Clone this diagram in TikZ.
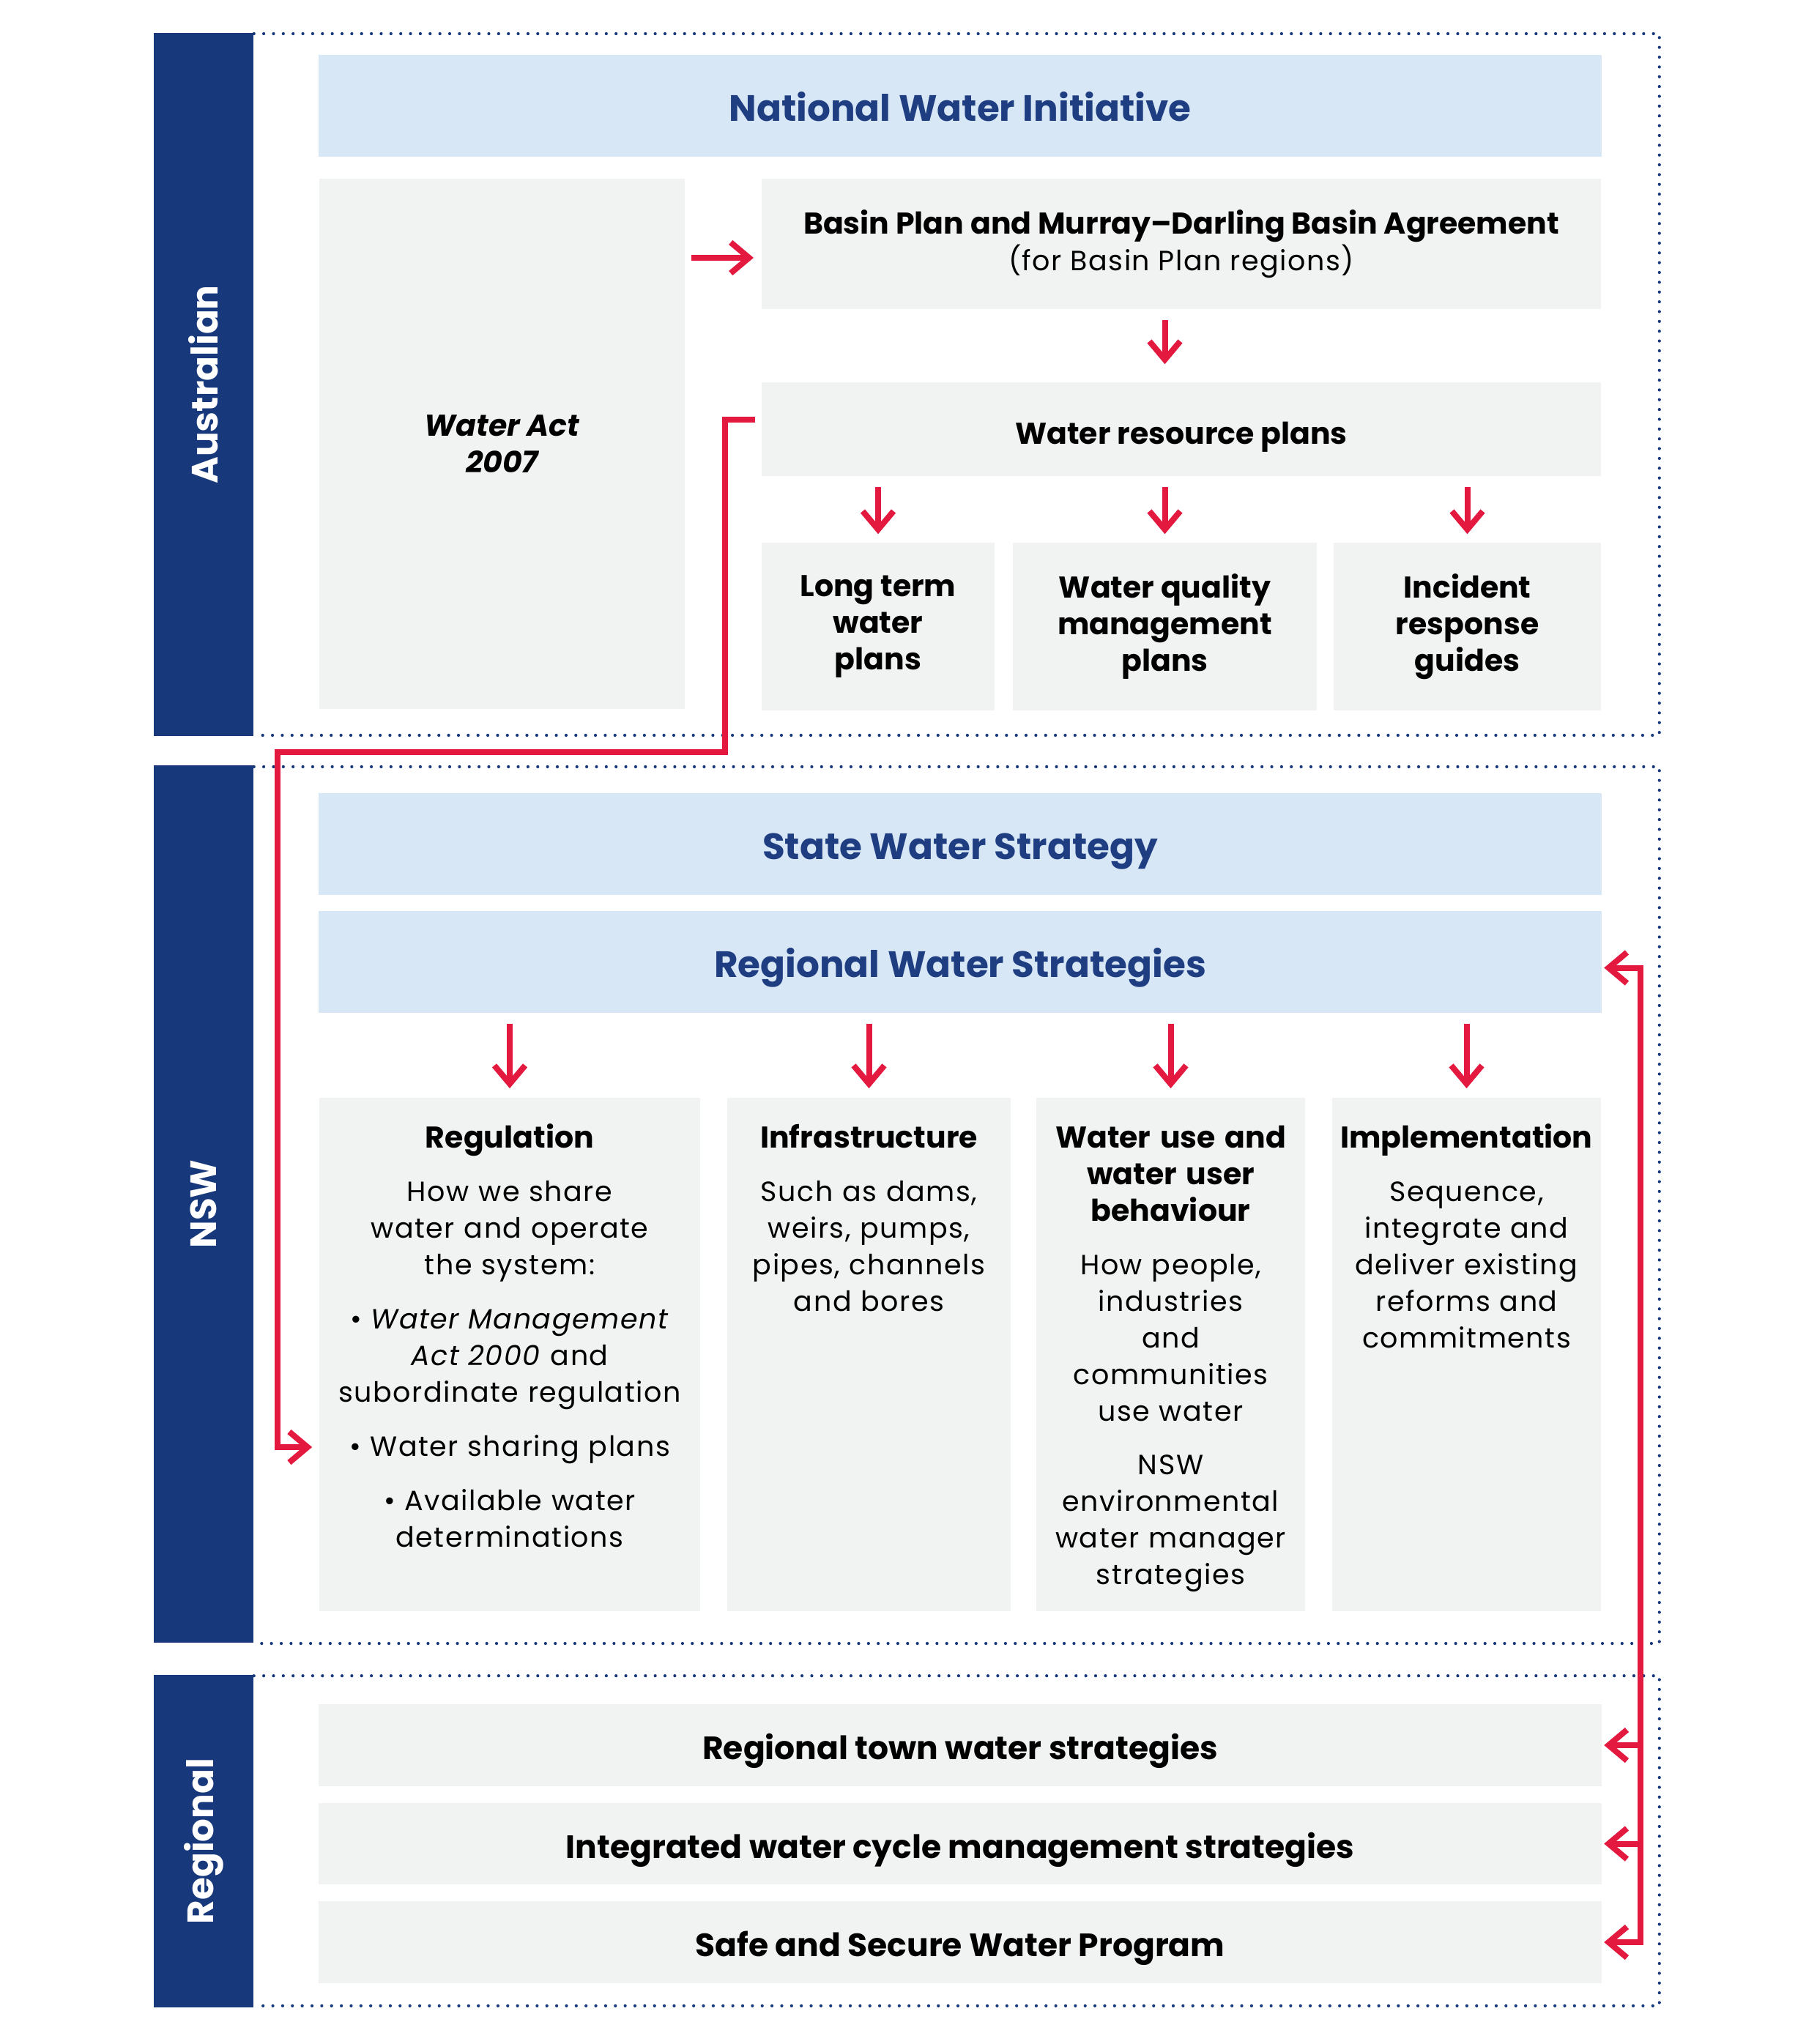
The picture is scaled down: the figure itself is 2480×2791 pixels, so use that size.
\documentclass[tikz,border=0pt]{standalone}
\usepackage{fontspec}
\setmainfont{Poppins}
\newfontfamily\bodyfam[LetterSpace=4]{Poppins}
\usepackage{xcolor}
\usepackage{tikz}
\usetikzlibrary{calc}
\usetikzlibrary{positioning}
\usetikzlibrary{arrows.meta}

\definecolor{navy}{HTML}{17397B}
\definecolor{headblue}{HTML}{1F3E82}
\definecolor{paleblue}{HTML}{D7E7F6}
\definecolor{palegray}{HTML}{F1F2F2}
\definecolor{flowred}{HTML}{E3193F}

\newcommand{\bodyfont}{\fontsize{0.38cm}{0.5cm}\bodyfam\mdseries\upshape}
\newcommand{\boldfont}{\fontsize{0.41cm}{0.5cm}\normalfont\bfseries}

\begin{document}
\begin{tikzpicture}[x=0.01cm,y=-0.01cm,
      bar style/.style={rectangle,fill=navy,inner sep=0pt,minimum width=1.36cm},
      side style/.style={rotate=90,text=white,inner sep=0pt,
        font=\fontsize{0.50cm}{0.6cm}\selectfont\bfseries},
      head style/.style={rectangle,fill=paleblue,inner sep=0pt,text=headblue,
        minimum width=17.5cm,minimum height=1.39cm,text height=0.42cm,text depth=0pt,
        font=\fontsize{0.50cm}{0.6cm}\selectfont\bfseries},
      box style/.style={rectangle,fill=palegray,inner sep=0pt,align=center,
        font=\boldfont,execute at begin node={\rule{0pt}{0.52cm}}},
      band style/.style={box style,minimum width=17.5cm,
        font=\fontsize{0.44cm}{0.5cm}\selectfont\bfseries},
      text style/.style={inner sep=0pt,align=center,font=\bodyfont},
      dot style/.style={navy,line width=1.2pt,line cap=round,
        dash pattern=on 0pt off 3.8pt},
      flow/.style={flowred,line width=0.08cm,
        -{Straight Barb[length=0.25cm,width=0.42cm]}},
      both flow/.style={flowred,line width=0.08cm,
        {Straight Barb[length=0.25cm,width=0.42cm]}-{Straight Barb[length=0.25cm,width=0.42cm]}}
      ]
      \useasboundingbox (0,0) rectangle (2480,2791);

      % level bars
      \node[bar style,minimum height=9.60cm] (aubar) at (278,525) {};
      \node[bar style,minimum height=11.98cm] (nswbar) at (278,1644) {};
      \node[bar style,minimum height=4.54cm] (regbar) at (278,2514) {};
      \node[side style] (aulbl) at (aubar) {Australian};
      \node[side style] (nswlbl) at (nswbar) {NSW};
      \node[side style] (reglbl) at (regbar) {Regional};

      \draw[dot style] ([yshift=-0.02cm]aubar.north east) -| ($(aubar.south east)+(1919,-2)$) -- ([yshift=0.02cm]aubar.south east);
      \draw[dot style] ([yshift=-0.03cm]nswbar.north east) -| ($(nswbar.south east)+(1919,0)$) -- (nswbar.south east);
      \draw[dot style] ([yshift=-0.02cm]regbar.north east) -| ($(regbar.south east)+(1919,-3)$) -- ([yshift=0.03cm]regbar.south east);

      % Australian
      \node[head style] (nwi) at (1311,144.5) {National Water Initiative};
      \node[box style,minimum width=4.99cm,minimum height=7.24cm] (wact) at (685.5,606)
        {\itshape Water Act\\\itshape 2007};
      \node[box style,minimum width=11.46cm,minimum height=1.78cm] (bpa) at (1613,333)
        {Basin Plan and Murray--Darling Basin Agreement\\
        {\bodyfont (for Basin Plan regions)}};
      \node[box style,minimum width=11.46cm,minimum height=1.28cm] (wrp) at (1613,586)
        {Water resource plans};
      \node[box style,minimum width=3.18cm,minimum height=2.29cm] (ltw) at (1199,855.5)
        {Long term\\water\\plans};
      \node[box style,minimum width=4.15cm,minimum height=2.29cm] (wqm) at (1590.5,855.5)
        {Water quality\\management\\plans};
      \node[box style,minimum width=3.65cm,minimum height=2.29cm] (irg) at (2003.5,855.5)
        {Incident\\response\\guides};

      % NSW
      \node[head style] (sws) at (1311,1152.5) {State Water Strategy};
      \node[head style] (rws) at (1311,1313.5) {Regional Water Strategies};
      \node[box style,minimum width=5.20cm,minimum height=7.01cm] (reg) at (696,1849.5) {};
      \node[box style,minimum width=3.87cm,minimum height=7.01cm] (inf) at (1186.5,1849.5) {};
      \node[box style,minimum width=3.67cm,minimum height=7.01cm] (wub) at (1598.5,1849.5) {};
      \node[box style,minimum width=3.67cm,minimum height=7.01cm] (imp) at (2002.5,1849.5) {};

      \node[text style,text width=5.1cm,anchor=base] (regtxt) at ($(reg.north)+(0,69)$)
        {{\boldfont Regulation}\\[0.23cm]
        How we share\\water and operate\\the system:\\[0.24cm]
        \textbullet{} \textit{Water Management}\\\textit{Act 2000} and\\subordinate regulation\\[0.24cm]
        \textbullet{} Water sharing plans\\[0.24cm]
        \textbullet{} Available water\\determinations};
      \node[text style,text width=3.8cm,anchor=base] (inftxt) at ($(inf.north)+(0,69)$)
        {{\boldfont Infrastructure}\\[0.23cm]
        Such as dams,\\weirs, pumps,\\pipes, channels\\and bores};
      \node[text style,text width=3.6cm,anchor=base] (wubtxt) at ($(wub.north)+(0,69)$)
        {{\boldfont Water use and\\water user\\behaviour}\\[0.23cm]
        How people,\\industries\\and\\communities\\use water\\[0.23cm]
        NSW\\environmental\\water manager\\strategies};
      \node[text style,text width=3.6cm,anchor=base] (imptxt) at ($(imp.north)+(0,69)$)
        {{\boldfont Implementation}\\[0.23cm]
        Sequence,\\integrate and\\deliver existing\\reforms and\\commitments};

      % Regional
      \node[band style,minimum height=1.12cm] (rtw) at (1311,2383)
        {Regional town water strategies};
      \node[band style,minimum height=1.11cm] (iwcm) at (1311,2517.5)
        {Integrated water cycle management strategies};
      \node[band style,minimum height=1.12cm] (sswp) at (1311,2652)
        {Safe and Secure Water Program};

      % connectors
      \draw[flow,shorten <=0.05cm,shorten >=0.10cm] ($(bpa.west)+(-100,19)$) -- ($(bpa.west)+(0,19)$);
      \draw[flow,shorten <=0.14cm,shorten >=0.24cm] (bpa.south -| wqm.north) -- (wrp.north -| wqm.north);

      \draw[flow,shorten <=0.14cm,shorten >=0.11cm] (wrp.south -| ltw.north) -- (ltw.north);
      \draw[flow,shorten <=0.14cm,shorten >=0.11cm] (wrp.south -| wqm.north) -- (wqm.north);
      \draw[flow,shorten <=0.14cm,shorten >=0.11cm] (wrp.south -| irg.north) -- (irg.north);

      \draw[flow] ($(wrp.west)+(-8,-13)$) -| (990,1027) -| (379,1976) -- ($(reg.west |- 0,1976)+(-9,0)$);

      \draw[flow,shorten <=0.14cm,shorten >=0.12cm] (rws.south -| reg.north) -- (reg.north);
      \draw[flow,shorten <=0.14cm,shorten >=0.12cm] (rws.south -| inf.north) -- (inf.north);
      \draw[flow,shorten <=0.14cm,shorten >=0.12cm] (rws.south -| wub.north) -- (wub.north);
      \draw[flow,shorten <=0.14cm,shorten >=0.12cm] (rws.south -| imp.north) -- (imp.north);

      \draw[both flow] ($(rws.east)+(3,8)$) -| ($(sswp.east)+(53,0)$) -- ($(sswp.east)+(3,0)$);
      \draw[flow] ($(rtw.east)+(53,0)$) -- ($(rtw.east)+(3,0)$);
      \draw[flow] ($(iwcm.east)+(53,0)$) -- ($(iwcm.east)+(3,0)$);

    \end{tikzpicture}
\end{document}
